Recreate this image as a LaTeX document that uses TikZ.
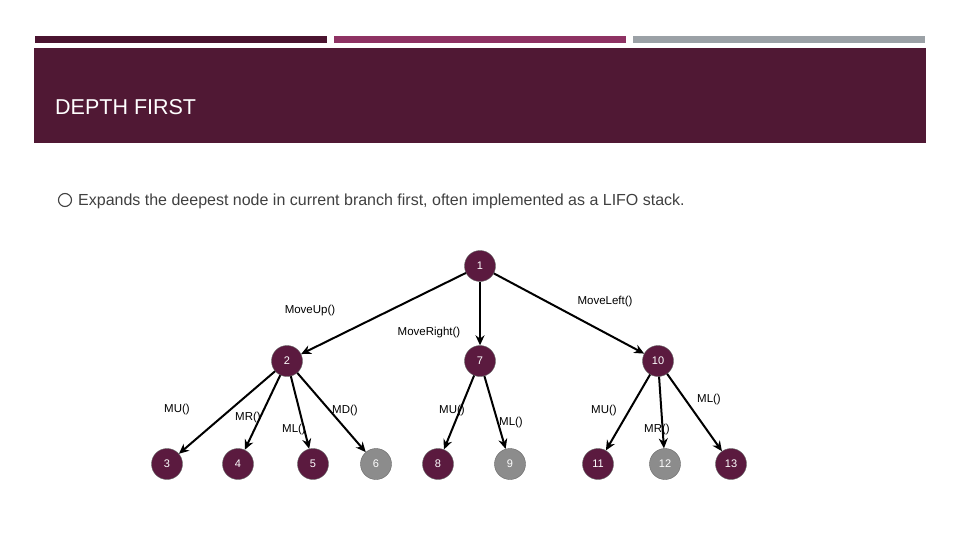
\documentclass[tikz,border=0pt]{standalone}
\usepackage{fontspec}
\setmainfont{Liberation Sans}
\usetikzlibrary{arrows.meta}
\definecolor{hdr}{HTML}{501834}
\definecolor{barA}{HTML}{4B1430}
\definecolor{barB}{HTML}{8E3263}
\definecolor{barC}{HTML}{9BA1A6}
\definecolor{nodeP}{HTML}{5B1A3F}
\definecolor{nodeG}{HTML}{8C8C8C}
\definecolor{txt}{HTML}{404040}
\tikzset{
  st/.style={circle,draw=black!60,line width=0.4pt,fill=nodeP,minimum size=31pt,inner sep=0pt,text=white,font=\fontsize{11}{12}\selectfont},
  stg/.style={st,fill=nodeG},
  edge/.style={draw=black,line width=2pt,-{Stealth[length=10pt,width=9pt]}},
  lbl/.style={font=\fontsize{11.5}{13}\selectfont,text=black,inner sep=0pt}
}
\begin{document}
\begin{tikzpicture}[x=1pt,y=-1pt]
\useasboundingbox (0,0) rectangle (960,540);
\fill[white] (0,0) rectangle (960,540);
% top bars
\fill[barA] (35,36) rectangle (327,43);
\fill[barB] (334,36) rectangle (626,43);
\fill[barC] (633,36) rectangle (925,43);
\fill[hdr] (34,48) rectangle (926,143);
\node[anchor=west,text=white,font=\fontsize{21.5}{24}\selectfont,inner sep=0pt] (title) at (55,107) {DEPTH FIRST};
% bullet
\draw[txt,line width=1.1pt] (65,200) circle (6.5pt);
\node[anchor=west,text=txt,font=\fontsize{16}{18}\selectfont,inner sep=0pt] (bul) at (78,201) {Expands the deepest node in current branch first, often implemented as a LIFO stack.};
% nodes
\node[st] (n1) at (480,266) {1};
\node[st] (n2) at (287,361) {2};
\node[st] (n7) at (480,361) {7};
\node[st] (n10) at (658,361) {10};
\node[st] (n3) at (167,464) {3};
\node[st] (n4) at (238,464) {4};
\node[st] (n5) at (313,464) {5};
\node[stg] (n6) at (376,464) {6};
\node[st] (n8) at (438,464) {8};
\node[stg] (n9) at (510,464) {9};
\node[st] (n11) at (598,464) {11};
\node[stg] (n12) at (665,464) {12};
\node[st] (n13) at (731,464) {13};
% edges
\draw[edge] (n1) -- (n2);
\draw[edge] (n1) -- (n7);
\draw[edge] (n1) -- (n10);
\draw[edge] (n2) -- (n3);
\draw[edge] (n2) -- (n4);
\draw[edge] (n2) -- (n5);
\draw[edge] (n2) -- (n6);
\draw[edge] (n7) -- (n8);
\draw[edge] (n7) -- (n9);
\draw[edge] (n10) -- (n11);
\draw[edge] (n10) -- (n12);
\draw[edge] (n10) -- (n13);
% labels
\node[lbl] (l1) at (310,311) {MoveUp()};
\node[lbl] (l2) at (605,302) {MoveLeft()};
\node[lbl] (l3) at (429,333) {MoveRight()};
\node[lbl] (l4) at (177,410) {MU()};
\node[lbl] (l5) at (248,418) {MR()};
\node[lbl] (l6) at (294,430) {ML()};
\node[lbl] (l7) at (345,411) {MD()};
\node[lbl] (l8) at (452,411) {MU()};
\node[lbl] (l9) at (511,423) {ML()};
\node[lbl] (l10) at (604,411) {MU()};
\node[lbl] (l11) at (657,430) {MR()};
\node[lbl] (l12) at (709,400) {ML()};
\end{tikzpicture}
\end{document}
